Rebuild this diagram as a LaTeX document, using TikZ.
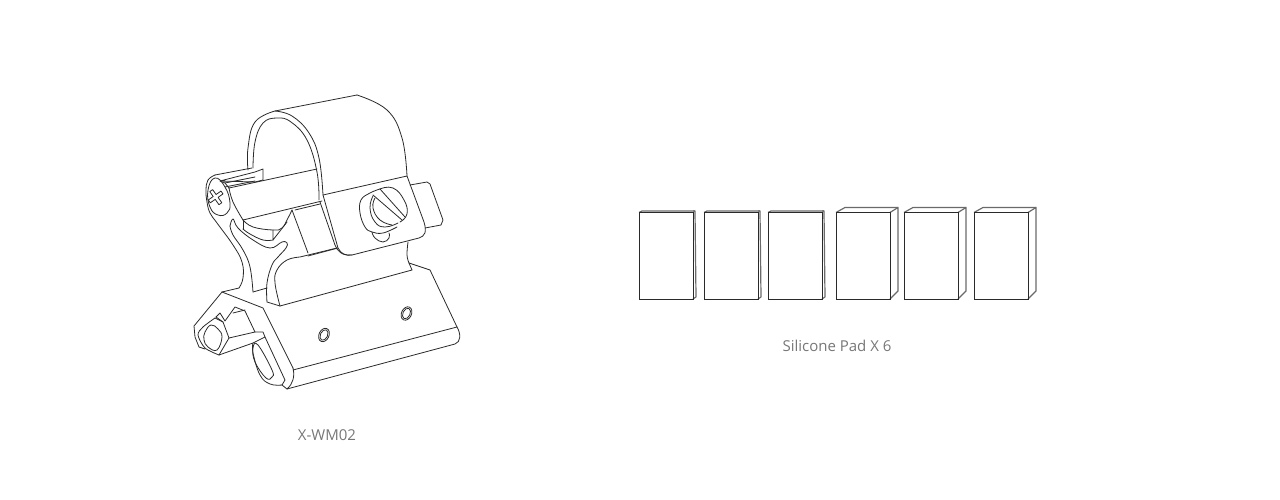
\documentclass[tikz,border=0pt]{standalone}
\usepackage{fontspec}
\setmainfont{Open Sans}
\definecolor{inkline}{HTML}{2A2A2A}
\definecolor{captiontext}{HTML}{777777}
\tikzset{
    part/.style={draw=inkline, line width=0.8pt, line join=round, line cap=round},
    padfront/.style={draw=inkline, line width=0.95pt},
    padside/.style={draw=inkline!70, line width=1.2pt, line join=round},
    caption/.style={text=captiontext, font=\fontsize{15}{16}\selectfont}
}
\begin{document}
\begin{tikzpicture}[x=1pt,y=-1pt]
    \useasboundingbox (0,0) rectangle (1280,500);
    % ring
    \draw[part] plot[smooth, tension=0.7] coordinates {(248,170) (248,148) (255,122) (275,111)} -- (357,95);
    \draw[part] plot[smooth, tension=0.7] coordinates {(357,95) (387,110) (402,138) (407,176)};
    \draw[part] plot[smooth, tension=0.7] coordinates {(275,111) (292,116) (309,133) (319,158) (323,195)};
    \draw[part] plot[smooth, tension=0.7] coordinates {(253,168) (255,142) (263,123) (277,118) (291,122) (307,140) (317,172) (319,200)};
    % clamp
    \draw[part] (323,195) -- (407,176) -- (424,222) .. controls (427,232) and (425,236) .. (419,238) -- (352,255) .. controls (346,256) and (341,254) .. (338,248) -- cycle;
    \draw[part] (320,202) -- (335,245) .. controls (337,251) and (342,256) .. (352,255);
    \draw[part] (308,256) -- (338,248);
    \draw[part] (410,185) -- (427,182) -- (430,184) -- (443,220) -- (441,225) -- (425,228);
    % screw
    \draw[part] plot[smooth, tension=0.8] coordinates {(380,189) (393,188) (404,200) (407,214) (400,222)};
    \draw[part] plot[smooth, tension=0.8] coordinates {(373,196) (370,208) (375,222) (385,227) (398,223)};
    \draw[part] plot[smooth, tension=0.8] coordinates {(375,198) (373,208) (380,220) (392,225)};
    \draw[part] plot[smooth, tension=0.7] coordinates {(380,189) (370,193) (361,200) (360,213) (365,227) (372,232) (383,233) (397,227)};
    \draw[part] plot[smooth, tension=0.8] coordinates {(372,232) (375,238) (383,242) (389,238) (389,233)};
    \draw[part] (373,195) -- (402,220);
    \draw[part] (380,189) -- (405,217);
    % left lug and teeth
    \draw[part] plot[smooth, tension=0.7] coordinates {(215,175) (208,180) (206,190) (207,202) (210,213) (217,223) (233,245) (242,262) (243,278) (239,288)};
    \draw[part] (215,175) -- (252,168);
    \draw[part] (220,181) -- (255,172) -- (263,169) -- (263,180) -- (255,182) -- cycle;
    \draw[part] (225,183) -- (255,177);
    \draw[part] (225,187) -- (255,181);
    \draw[part] (220,181) -- (225,183) -- (229,188);
    \draw[part] (229,188) -- (317,169);
    \draw[part] plot[smooth cycle, tension=0.8] coordinates {(215,178) (225,187) (230,203) (227,213) (218,215) (210,207) (208,190)};
    \draw[part, rotate around={35:(216,197)}] (216-2,197-8) -- ++(3.500,0) -- ++(0,6) -- ++(6,0) -- ++(0,3.500) -- ++(-6,0) -- ++(0,6.500) -- ++(-3.500,0) -- ++(0,-6.500) -- ++(-6,0) -- ++(0,-3.500) -- ++(6,0) -- cycle;
    \draw[part] plot[smooth, tension=0.7] coordinates {(229,188) (233,202) (243,220)};
    \draw[part] (243,220) -- (322,201);
    \draw[part] (295,210) -- (320,204);
    % cup under the ring
    \draw[part] plot[smooth, tension=0.7] coordinates {(243,220) (253,227) (273,230) (282,228) (288,218) (292,210)};
    \draw[part] plot[smooth, tension=0.7] coordinates {(243,229) (250,234) (263,240) (273,240)};
    \draw[part] (243,220) -- (243,229);
    \draw[part] (273,230) -- (273,240) -- (287,222);
    \draw[part] (292,210) -- (308,253);
    % slot
    \draw[part] plot[smooth, tension=0.7] coordinates {(230,226) (233,219) (238,228) (253,240) (270,248) (282,242) (287,243) (286,248) (278,257) (272,265) (267,283) (267,302)};
    \draw[part] plot[smooth, tension=0.7] coordinates {(230,226) (233,235) (243,250) (250,267) (253,292)};
    % front slide
    \draw[part] (253,292) -- (267,288);
    \draw[part] (267,302) -- (280,306);
    \draw[part] plot[smooth, tension=0.7] coordinates {(280,306) (275,283) (277,270) (287,260) (300,257)} -- (337,248);
    \draw[part] (280,306) -- (412,270);
    % base
    \draw[part] (222,292) -- (239,288);
    \draw[part] (222,292) -- (263,308) -- (293,368);
    \draw[part] plot[smooth, tension=0.7] coordinates {(408,242) (407,255) (409,263)};
    \draw[part] (409,263) -- (412,270);
    \draw[part] (409,263) -- (430,270) -- (457,327);
    \draw[part] (293,370) -- (457,327);
    \draw[part] (457,327) .. controls (461,334) and (461,342) .. (455,344) -- (287,389);
    \draw[part] (293,368) .. controls (295,376) and (293,384) .. (287,389) -- (282,385);
    % holes
    \draw[part] (324,335) ellipse [x radius=5pt, y radius=7pt, rotate=-25];
    \draw[part] (324,335) ellipse [x radius=3.6pt, y radius=5.6pt, rotate=-25];
    \draw[part] (406.500,313.500) ellipse [x radius=5pt, y radius=7pt, rotate=-25];
    \draw[part] (406.500,313.500) ellipse [x radius=3.6pt, y radius=5.6pt, rotate=-25];
    % bolt
    \draw[part] (222,292) -- (194,326) -- (195,337) -- (199,347) -- (205,349);
    \draw[part] plot[smooth, tension=0.5] coordinates {(215,318) (203,327) (198,335) (205,348) (219,355)};
    \draw[part] (215,318) -- (223,322) -- (229,338) -- (219,355);
    \draw[part] plot[smooth cycle, tension=0.7] coordinates {(211,325) (218,329) (222,337) (217,350) (208,347) (204,340) (205,332)};
    \draw[part] (216,317) -- (220,313) -- (225,321) -- (235,307) -- (245,311) -- (255,332) -- (229,338);
    \draw[part] (216,317) -- (223,322);
    \draw[part] (255,332) -- (263,332) -- (265,337) -- (253,343) -- (219,355);
    \draw[part] (233,313) -- (245,310);
    \draw[part] plot[smooth cycle, tension=0.7] coordinates {(253,348) (258,345) (272,370) (272,377) (266,378) (255,362)};
    \draw[part] plot[smooth, tension=0.7] coordinates {(253,343) (253,353) (260,375) (270,384) (282,385)};
    \draw[part] (265,337) -- (285,380) -- (282,385);
    % pads
    \foreach \padx/\padname in {639/a,704/b,768/c}
    {
        \draw[padside] (\padx+54,211) -- (\padx+56,211) -- (\padx+57,297) -- (\padx+54,299);
        \draw[padside] (\padx,212.500) -- (\padx+3,211) -- (\padx+56,211);
        \draw[padfront] (\padx,212.500) rectangle (\padx+54,299.300);
    }
    \foreach \padx/\padname in {836/d,904/e,974/f}
    {
        \draw[padside] (\padx+54,212.500) -- (\padx+62,207.500) -- (\padx+62,291) -- (\padx+54,299);
        \draw[padside] (\padx,212.500) -- (\padx+9,207.500) -- (\padx+62,207.500);
        \draw[padfront] (\padx,212.500) rectangle (\padx+54,299.300);
    }
    % captions
    \node[caption] (mountlabel) at (327,435.500) {X-WM02};
    \node[caption] (padlabel) at (837,345.500) {Silicone Pad X 6};
\end{tikzpicture}
\end{document}
